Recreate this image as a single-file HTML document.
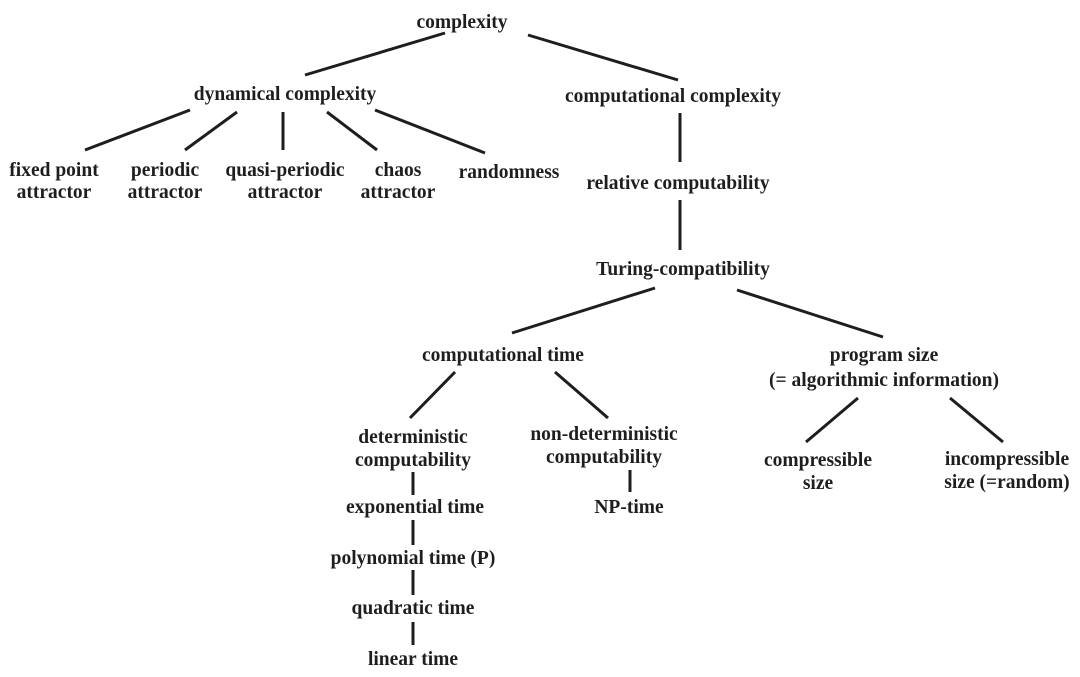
<!DOCTYPE html>
<html><head><meta charset="utf-8"><style>
html,body{margin:0;padding:0;background:#fff;}
svg{display:block}
text{font-family:"Liberation Serif",serif;font-weight:bold;font-size:19.5px;fill:#1e1e1e;text-anchor:middle}
line{stroke:#1e1e1e;stroke-width:3}
</style></head><body>
<svg width="1080" height="677" viewBox="0 0 1080 677">
<line x1="445" y1="33" x2="305" y2="75"/>
<line x1="528" y1="35" x2="678" y2="80"/>
<line x1="190" y1="110" x2="85" y2="150"/>
<line x1="237" y1="112" x2="185" y2="150"/>
<line x1="283" y1="112" x2="283" y2="150"/>
<line x1="327" y1="112" x2="377" y2="150"/>
<line x1="375" y1="110" x2="485" y2="153"/>
<line x1="680" y1="113" x2="680" y2="162"/>
<line x1="680" y1="200" x2="680" y2="250"/>
<line x1="655" y1="288" x2="512" y2="333"/>
<line x1="737" y1="290" x2="883" y2="337"/>
<line x1="455" y1="372" x2="410" y2="418"/>
<line x1="555" y1="372" x2="608" y2="418"/>
<line x1="858" y1="398" x2="806" y2="442"/>
<line x1="950" y1="398" x2="1003" y2="442"/>
<line x1="413" y1="472" x2="413" y2="495"/>
<line x1="413" y1="520" x2="413" y2="545"/>
<line x1="413" y1="570" x2="413" y2="595"/>
<line x1="413" y1="622" x2="413" y2="645"/>
<line x1="630" y1="470" x2="630" y2="492"/>
<text x="462" y="28">complexity</text>
<text x="285" y="100">dynamical complexity</text>
<text x="673" y="102">computational complexity</text>
<text x="54" y="176">fixed point</text><text x="54" y="198">attractor</text>
<text x="165" y="176">periodic</text><text x="165" y="198">attractor</text>
<text x="285" y="176">quasi-periodic</text><text x="285" y="198">attractor</text>
<text x="398" y="176">chaos</text><text x="398" y="198">attractor</text>
<text x="509" y="178">randomness</text>
<text x="678" y="189">relative computability</text>
<text x="683" y="275">Turing-compatibility</text>
<text x="503" y="361">computational time</text>
<text x="884" y="361">program size</text><text x="884" y="386">(= algorithmic information)</text>
<text x="413" y="443">deterministic</text><text x="413" y="466">computability</text>
<text x="604" y="440">non-deterministic</text><text x="604" y="463">computability</text>
<text x="415" y="513">exponential time</text>
<text x="629" y="513">NP-time</text>
<text x="413" y="564">polynomial time (P)</text>
<text x="413" y="614">quadratic time</text>
<text x="413" y="665">linear time</text>
<text x="818" y="466">compressible</text><text x="818" y="489">size</text>
<text x="1007" y="465">incompressible</text><text x="1007" y="488">size (=random)</text>
</svg>
</body></html>
